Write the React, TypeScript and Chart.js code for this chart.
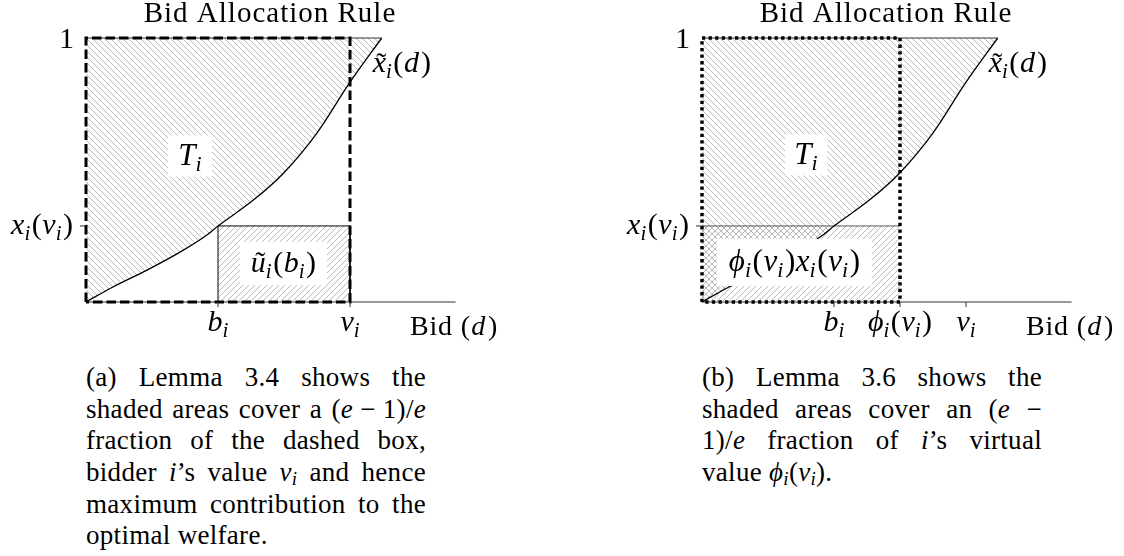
import React, { useEffect, useRef } from "react";
import { Chart, registerables } from "chart.js";

Chart.register(...registerables);

// Bid allocation rule x̃_i(d): bids along the curve and the allocation at each bid
const curveBids = [0, 0.102, 0.231, 0.356, 0.458, 0.5, 0.634, 0.747, 0.874, 0.997, 1.12];
const curveAlloc = [0, 0.057, 0.121, 0.189, 0.254, 0.288, 0.386, 0.487, 0.639, 0.828, 1];

// Marked bids on the horizontal axis
const bidValue = 0.5; // b_i
const trueValue = 1.0; // v_i
const virtualValue = 0.75; // φ_i(v_i)
// Allocation level x_i(v_i)
const allocAtValue = 0.288;
// Axis extents
const bidAxisMax = 1.4;
const allocMax = 1;

type Part = [string, string]; // text, style: r roman, i italic, s subscript, t italic with tilde

const B_I: Part[] = [["b", "i"], ["i", "s"]];
const V_I: Part[] = [["v", "i"], ["i", "s"]];
const PHI_V: Part[] = [["ϕ", "i"], ["i", "s"], ["(", "r"], ["v", "i"], ["i", "s"], [")", "r"]];
const X_V: Part[] = [["x", "i"], ["i", "s"], ["(", "r"], ["v", "i"], ["i", "s"], [")", "r"]];
const X_TILDE_D: Part[] = [["x", "t"], ["i", "s"], ["(", "r"], ["d", "i"], [")", "r"]];
const U_TILDE_B: Part[] = [["u", "t"], ["i", "s"], ["(", "r"], ["b", "i"], ["i", "s"], [")", "r"]];
const T_I: Part[] = [["T", "i"], ["i", "s"]];
const PHI_X: Part[] = [...PHI_V, ...X_V];
const ONE: Part[] = [["1", "r"]];
const BID_AXIS: Part[] = [["Bid (", "r"], ["d", "i"], [")", "r"]];
const TITLE: Part[] = [["Bid Allocation Rule", "r"]];

const ticksA = [
  { v: bidValue, label: B_I },
  { v: trueValue, label: V_I },
];
const ticksB = [
  { v: bidValue, label: B_I },
  { v: virtualValue, label: PHI_V },
  { v: trueValue, label: V_I },
];

const SERIF = '"Liberation Serif", "DejaVu Serif", serif';

function partFont(style: string, size: number) {
  if (style === "r") return `${size}px ${SERIF}`;
  if (style === "s") return `italic ${Math.round(size * 0.7)}px ${SERIF}`;
  return `italic ${size}px ${SERIF}`;
}

function drawMath(
  ctx: CanvasRenderingContext2D,
  parts: Part[],
  x: number,
  baseline: number,
  align: "left" | "center" | "right",
  size: number,
  spacing = 0
) {
  ctx.save();
  ctx.fillStyle = "#000";
  ctx.textBaseline = "alphabetic";
  ctx.textAlign = "left";
  (ctx as any).letterSpacing = `${spacing}px`;
  const widths = parts.map(([t, s]) => {
    ctx.font = partFont(s, size);
    return ctx.measureText(t).width;
  });
  const gaps = parts.map(([, s], i) => {
    const next = parts[i + 1];
    if (!next) return 0;
    if ((s === "i" || s === "t") && next[1] !== "s") return size * 0.07;
    if (s === "s") return size * 0.05;
    if (s === "r" && next[1] !== "r") return size * 0.02;
    return 0;
  });
  const total = widths.reduce((a, b) => a + b, 0) + gaps.reduce((a, b) => a + b, 0);
  let cx = align === "center" ? x - total / 2 : align === "right" ? x - total : x;
  parts.forEach(([t, s], i) => {
    ctx.font = partFont(s, size);
    const dy = s === "s" ? size * 0.2 : 0;
    ctx.fillText(t, cx, baseline + dy);
    if (s === "t") {
      ctx.font = `${size}px ${SERIF}`;
      ctx.textAlign = "center";
      ctx.fillText("˜", cx + widths[i] / 2 + size * 0.06, baseline + size * 0.02);
      ctx.textAlign = "left";
    }
    cx += widths[i] + gaps[i];
  });
  ctx.restore();
}

function makeHatch(ctx: CanvasRenderingContext2D, dir: "back" | "fwd"): CanvasPattern {
  const s = 12;
  const c = document.createElement("canvas");
  c.width = s;
  c.height = s;
  const g = c.getContext("2d")!;
  g.strokeStyle = "#a8a8a8";
  g.lineWidth = 0.8;
  g.beginPath();
  for (const k of [-s, -s / 2, 0, s / 2, s]) {
    if (dir === "back") {
      g.moveTo(k, 0);
      g.lineTo(k + s, s);
    } else {
      g.moveTo(k, s);
      g.lineTo(k + s, 0);
    }
  }
  g.stroke();
  return ctx.createPattern(c, "repeat")!;
}

function whiteLabel(
  ctx: CanvasRenderingContext2D,
  cx: number,
  cy: number,
  w: number,
  h: number,
  parts: Part[],
  size: number
) {
  ctx.save();
  ctx.fillStyle = "#fff";
  ctx.fillRect(cx - w / 2, cy - h / 2, w, h);
  ctx.restore();
  drawMath(ctx, parts, cx, cy + size * 0.28, "center", size);
}

function buildChart(canvas: HTMLCanvasElement, panel: "a" | "b") {
  const ctx = canvas.getContext("2d")!;
  const back = makeHatch(ctx, "back");
  const fwd = makeHatch(ctx, "fwd");
  const curve = curveBids.map((x, i) => ({ x, y: curveAlloc[i] }));
  const curveEnd = curveBids[curveBids.length - 1];
  const boxRight = panel === "a" ? trueValue : virtualValue;
  const base = {
    pointRadius: 0,
    pointHoverRadius: 0,
    tension: 0,
    fill: false,
    clip: false,
    borderWidth: 1,
  };
  const datasets: any[] = [
    // welfare box (dashed) or virtual-value box (dotted)
    {
      ...base,
      data: [
        { x: 0, y: 0 },
        { x: 0, y: allocMax },
        { x: boxRight, y: allocMax },
        { x: boxRight, y: 0 },
        { x: 0, y: 0 },
      ],
      borderColor: "#000",
      borderWidth: panel === "a" ? 3 : 3.5,
      borderDash: panel === "a" ? [9.5, 4] : [3.3, 3.3],
      borderCapStyle: "butt",
      borderJoinStyle: "miter",
      order: 0,
    },
    // allocation curve
    {
      ...base,
      data: curve,
      borderColor: "#000",
      borderWidth: 1.3,
      cubicInterpolationMode: "monotone",
      order: 1,
    },
    // allocation ceiling
    {
      ...base,
      data: [
        { x: 0, y: allocMax },
        { x: curveEnd, y: allocMax },
      ],
      borderColor: "#333",
      order: 2,
    },
    panel === "a"
      ? {
          ...base,
          data: [
            { x: bidValue, y: 0 },
            { x: bidValue, y: allocAtValue },
            { x: trueValue, y: allocAtValue },
            { x: trueValue, y: 0 },
          ],
          borderColor: "#000",
          fill: "origin",
          backgroundColor: fwd,
          order: 3,
        }
      : {
          ...base,
          data: [
            { x: 0, y: allocAtValue },
            { x: virtualValue, y: allocAtValue },
          ],
          borderColor: "#555",
          fill: "origin",
          backgroundColor: fwd,
          order: 3,
        },
    // bid axis
    {
      ...base,
      data: [
        { x: 0, y: 0 },
        { x: bidAxisMax, y: 0 },
      ],
      borderColor: "#333",
      order: 4,
    },
    // T_i: area above the allocation curve
    {
      ...base,
      data: curve,
      borderWidth: 0,
      borderColor: "rgba(0,0,0,0)",
      cubicInterpolationMode: "monotone",
      fill: { value: allocMax },
      backgroundColor: back,
      order: 5,
    },
  ];

  const labels = {
    id: "mathLabels",
    afterDatasetsDraw(chart: any) {
      const c: CanvasRenderingContext2D = chart.ctx;
      const xs = chart.scales.x;
      const ys = chart.scales.y;
      const X = (v: number) => xs.getPixelForValue(v);
      const Y = (v: number) => ys.getPixelForValue(v);
      const x0 = X(0);
      const y0 = Y(0);
      const y1 = Y(allocMax);

      drawMath(c, TITLE, x0 + 184, 22, "center", 29, 1);
      drawMath(c, ONE, x0 - 12, y1 + 10, "right", 30);
      drawMath(c, X_V, x0 - 13, Y(allocAtValue) + 8, "right", 30);
      drawMath(c, X_TILDE_D, X(curveEnd) - 9, y1 + 34, "left", 30);
      drawMath(c, BID_AXIS, x0 + 324, y0 + 33, "left", 28, 0.8);

      // y tick at x_i(v_i)
      c.save();
      c.strokeStyle = "#333";
      c.lineWidth = 1;
      c.beginPath();
      c.moveTo(x0 - 6, Y(allocAtValue));
      c.lineTo(x0, Y(allocAtValue));
      const ticks = panel === "a" ? ticksA : ticksB;
      ticks.forEach((t) => {
        c.moveTo(X(t.v), y0);
        c.lineTo(X(t.v), y0 + 5);
      });
      c.stroke();
      c.restore();
      ticks.forEach((t) => drawMath(c, t.label, X(t.v), y0 + 29, "center", 30));

      if (panel === "a") {
        whiteLabel(c, X(0.394), Y(0.553), 44, 41, T_I, 31);
        whiteLabel(c, X(0.748), Y(0.146), 87, 43, U_TILDE_B, 30);
      } else {
        whiteLabel(c, X(0.394), Y(0.557), 42, 41, T_I, 31);
        whiteLabel(c, X(0.35), Y(0.15), 155, 47, PHI_X, 31);
      }
    },
  };

  return new Chart(canvas, {
    type: "line",
    data: { datasets },
    options: {
      responsive: false,
      animation: false,
      events: [],
      layout: {
        padding: {
          left: 86,
          top: 38,
          right: canvas.width - 86 - bidAxisMax * 264,
          bottom: canvas.height - 302,
        },
      },
      scales: {
        x: { type: "linear", min: 0, max: bidAxisMax, display: false },
        y: { type: "linear", min: 0, max: allocMax, display: false },
      },
      plugins: { legend: { display: false }, tooltip: { enabled: false } },
    },
    plugins: [labels],
  } as any);
}

function Panel({ panel, left, width }: { panel: "a" | "b"; left: number; width: number }) {
  const ref = useRef<HTMLCanvasElement>(null);
  useEffect(() => {
    const chart = buildChart(ref.current!, panel);
    return () => chart.destroy();
  }, [panel]);
  return (
    <canvas
      ref={ref}
      width={width}
      height={345}
      style={{ position: "absolute", left, top: 0, width, height: 345 }}
    />
  );
}

const I = ({ children }: { children: React.ReactNode }) => (
  <span style={{ fontStyle: "italic" }}>{children}</span>
);
const Sub = ({ children }: { children: React.ReactNode }) => (
  <span style={{ fontStyle: "italic", fontSize: "0.7em", position: "relative", top: "0.22em" }}>
    {children}
  </span>
);

const captionA: React.ReactNode[] = [
  <>(a) Lemma 3.4 shows the</>,
  <>
    shaded areas cover a (<I>e</I>{"\u2005"}−{"\u2005"}1)/<I>e</I>
  </>,
  <>fraction of the dashed box,</>,
  <>
    bidder <I>i</I>’s value <I>v</I>
    <Sub>i</Sub> and hence
  </>,
  <>maximum contribution to the</>,
  <>optimal welfare.</>,
];

const captionB: React.ReactNode[] = [
  <>(b) Lemma 3.6 shows the</>,
  <>
    shaded areas cover an (<I>e</I> −
  </>,
  <>
    1)/<I>e</I> fraction of <I>i</I>’s virtual
  </>,
  <>
    value <I>ϕ</I>
    <Sub>i</Sub>(<I>v</I>
    <Sub>i</Sub>).
  </>,
];

function Caption({ left, lines }: { left: number; lines: React.ReactNode[] }) {
  return (
    <div style={{ position: "absolute", left, top: 362, width: 340 }}>
      {lines.map((line, i) => (
        <div
          key={i}
          style={{
            height: 31.7,
            lineHeight: "31.7px",
            fontSize: 27,
            letterSpacing: 0.3,
            textAlign: "justify",
            textAlignLast: i === lines.length - 1 ? "left" : "justify",
            whiteSpace: "normal",
          }}
        >
          {line}
        </div>
      ))}
    </div>
  );
}

export default function App() {
  return (
    <div
      style={{
        position: "fixed",
        left: 0,
        top: 0,
        width: 1124,
        height: 556,
        background: "#fff",
        fontFamily: SERIF,
        color: "#000",
        overflow: "hidden",
      }}
    >
      <Panel panel="a" left={0} width={560} />
      <Panel panel="b" left={616} width={508} />
      <Caption left={86} lines={captionA} />
      <Caption left={702} lines={captionB} />
    </div>
  );
}
